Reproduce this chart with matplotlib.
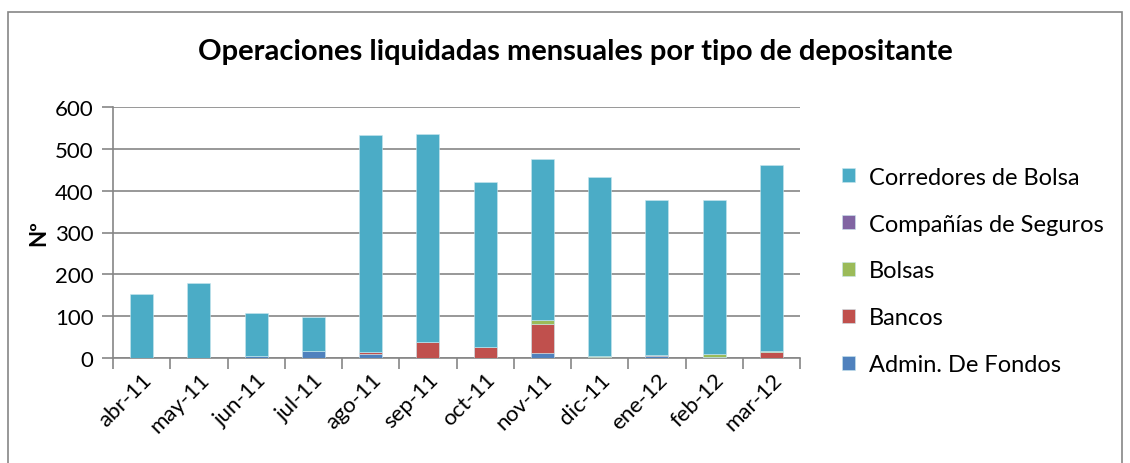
import matplotlib
matplotlib.use("Agg")
import matplotlib.pyplot as plt
from matplotlib.patches import Rectangle
import numpy as np

months = ["abr-11", "may-11", "jun-11", "jul-11", "ago-11", "sep-11",
          "oct-11", "nov-11", "dic-11", "ene-12", "feb-12", "mar-12"]
admin = [0, 0, 4, 17, 9, 0, 0, 12, 1, 5, 2, 0]
bancos = [0, 0, 0, 0, 5, 38, 27, 70, 1, 3, 0, 14]
bolsas = [0, 0, 0, 0, 0, 0, 0, 9, 3, 0, 8, 2]
seguros = [0, 0, 0, 0, 0, 0, 0, 0, 0, 0, 0, 0]
totals = [152, 180, 108, 97, 533, 535, 420, 475, 432, 378, 378, 462]
corredores = [t - a - b - c - d for t, a, b, c, d in zip(totals, admin, bancos, bolsas, seguros)]

series = [
    ("Admin. De Fondos", admin, "#4F81BD"),
    ("Bancos", bancos, "#C0504D"),
    ("Bolsas", bolsas, "#9BBB59"),
    ("Compañías de Seguros", seguros, "#8064A2"),
    ("Corredores de Bolsa", corredores, "#4BACC6"),
]

plt.rcParams["font.family"] = ["Lato", "DejaVu Sans"]

W, H = 1130, 464
fig = plt.figure(figsize=(W / 100, H / 100), dpi=100)
fig.patches.append(Rectangle((8 / W, -0.01), (1122 - 8) / W, 1 - 13 / H + 0.01,
                             transform=fig.transFigure, fill=False,
                             edgecolor="#868686", linewidth=1.2))

ax = fig.add_axes([113 / W, 1 - 359 / H, (800 - 113) / W, (359 - 108) / H])
x = np.arange(len(months))
bottom = np.zeros(len(months))
handles = []
for name, vals, col in series:
    b = ax.bar(x, vals, 0.4, bottom=bottom, color=col, edgecolor="#c8e6ee",
               linewidth=0.4, label=name, zorder=3)
    handles.append(b)
    bottom += np.array(vals)

ax.set_xlim(-0.5, len(months) - 0.5)
ax.set_ylim(0, 600)
ax.set_yticks(range(0, 601, 100))
ax.yaxis.grid(True, color="#868686", linewidth=1.2, zorder=0)
for s in ["top", "right"]:
    ax.spines[s].set_visible(False)
for s in ["left", "bottom"]:
    ax.spines[s].set_color("#868686")
    ax.spines[s].set_linewidth(1.2)
ax.tick_params(axis="y", colors="#868686", length=8, width=1.2, labelcolor="black",
               labelsize=16, pad=6)
ax.set_xticks(x)
ax.set_xticklabels(months, rotation=45, ha="right", rotation_mode="anchor", fontsize=16)
ax.tick_params(axis="x", length=0, pad=8)
ax.set_xticks(np.arange(-0.5, len(months), 1), minor=True)
ax.tick_params(axis="x", which="minor", length=8, width=1.2, colors="#868686")
ax.set_ylabel("Nº", fontsize=16, fontweight="bold", labelpad=4)

fig.text(575 / W, 1 - 52 / H, "Operaciones liquidadas mensuales por tipo de depositante",
         ha="center", va="center", fontsize=21, fontweight="bold")

ax.legend(handles[::-1], [s[0] for s in series][::-1], loc="center left",
          bbox_to_anchor=(830 / W, 1 - 272 / H), bbox_transform=fig.transFigure,
          frameon=False, fontsize=17, handlelength=0.55, handleheight=0.55,
          handletextpad=0.6, labelspacing=1.1, borderpad=0)

fig.savefig("out.png", dpi=100)
